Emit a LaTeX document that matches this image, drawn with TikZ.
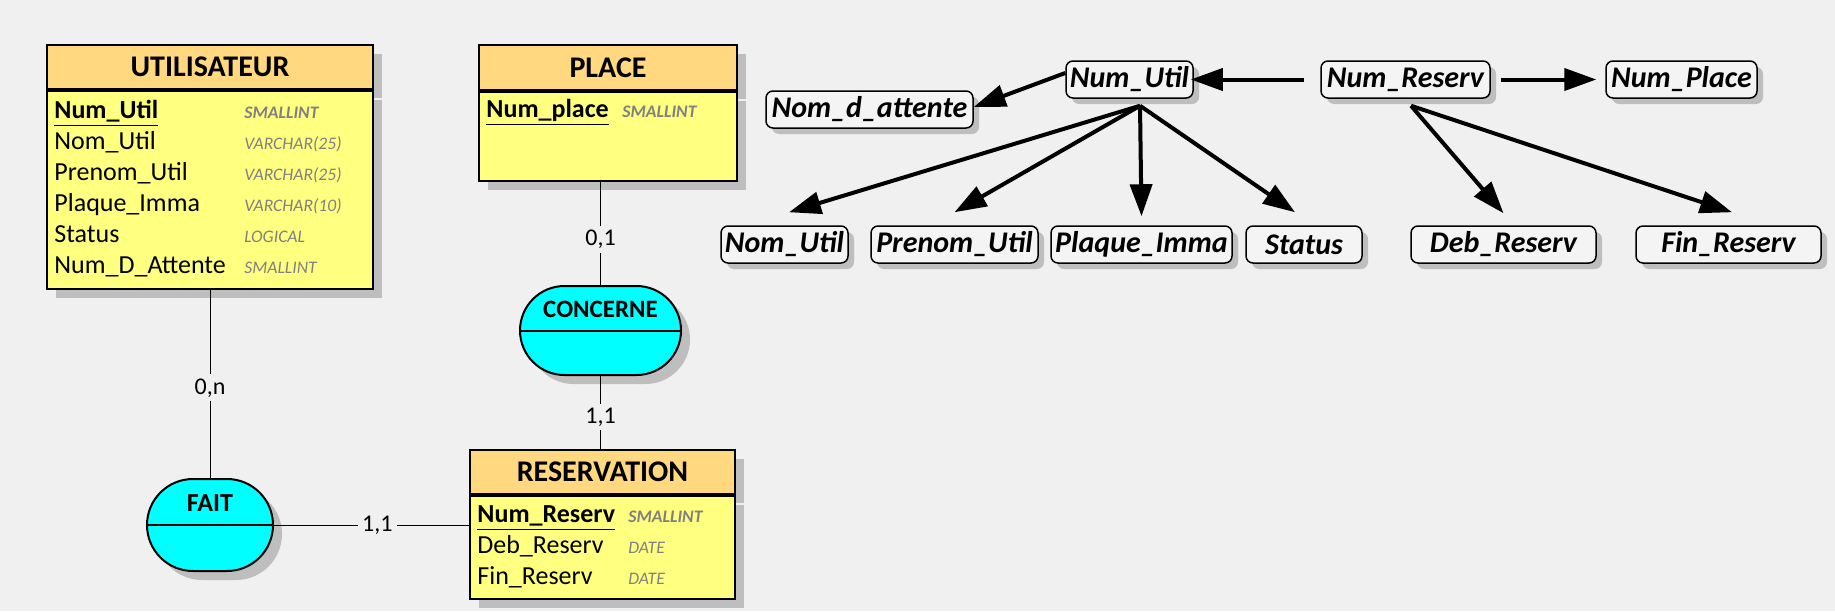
\documentclass[tikz,border=0pt]{standalone}
\usepackage{fontspec}
\setmainfont{Carlito}
\usetikzlibrary{arrows.meta,positioning,shapes.misc,shadows,calc}
\definecolor{canvas}{RGB}{240,240,240}
\definecolor{headfill}{RGB}{255,216,128}
\definecolor{bodyfill}{RGB}{255,255,128}
\definecolor{relfill}{RGB}{0,255,255}
\definecolor{shade}{RGB}{190,190,190}
\definecolor{typegray}{RGB}{128,128,128}
\definecolor{keyfill}{RGB}{244,244,244}
\newcommand{\dtype}[1]{{\fontsize{8.8}{9}\selectfont\itshape\color{typegray}#1}}
\newcommand{\dkeytype}[1]{{\fontsize{8.8}{9}\selectfont\bfseries\itshape\color{typegray}#1}}
\newcommand{\dkey}[1]{\underline{\textbf{#1}}}
\tikzset{
  >={Triangle[length=16pt,width=11pt]},
  ent head/.style={draw,line width=1pt,fill=headfill,inner sep=0pt,
    minimum height=22pt,font=\fontsize{15}{17}\selectfont\bfseries,
    drop shadow={shadow xshift=4.5pt,shadow yshift=-4.5pt,fill=shade,opacity=1}},
  ent body/.style={draw,line width=1pt,fill=bodyfill,inner sep=0pt,
    drop shadow={shadow xshift=4.5pt,shadow yshift=-4.5pt,fill=shade,opacity=1}},
  ent attr/.style={anchor=north west,inner sep=0pt,font=\fontsize{13}{15.5}\selectfont},
  rel/.style={rounded rectangle,draw,line width=1pt,fill=relfill,inner sep=0pt,
    drop shadow={shadow xshift=4.5pt,shadow yshift=-4.5pt,fill=shade,opacity=1}},
  rel name/.style={inner sep=0pt,font=\fontsize{13}{15}\selectfont\bfseries},
  card/.style={fill=canvas,inner sep=2pt,font=\fontsize{12}{14}\selectfont},
  link/.style={line width=0.5pt},
  dfbox/.style={draw,line width=0.75pt,rounded corners=3.5pt,fill=keyfill,
    minimum height=18.5pt,inner sep=1.5pt,font=\fontsize{15}{17}\selectfont\bfseries\itshape,
    drop shadow={shadow xshift=3pt,shadow yshift=-3pt,fill=shade,opacity=1}},
  dep/.style={->,line width=2pt},
}
\begin{document}
\begin{tikzpicture}[x=0.5pt,y=-0.5pt]
  \fill[canvas] (0,0) rectangle (1835,611);
  \useasboundingbox (0,0) rectangle (1835,611);

  % entities
  \node[ent head,minimum width=163pt] (utilh) at (210,67) {UTILISATEUR};
  \node[ent body,minimum width=163pt,minimum height=99pt,below=0pt of utilh] (util) {};
  \node[ent attr] (utilattr) at ([xshift=4pt,yshift=-3.3pt]util.north west) {%
    \begin{tabular}{@{}p{95pt}@{}l@{}}
      \dkey{Num\_Util} & \dkeytype{SMALLINT}\\
      Nom\_Util & \dtype{VARCHAR(25)}\\
      Prenom\_Util & \dtype{VARCHAR(25)}\\
      Plaque\_Imma & \dtype{VARCHAR(10)}\\
      Status & \dtype{LOGICAL}\\
      Num\_D\_Attente & \dtype{SMALLINT}
    \end{tabular}};

  \node[ent head,minimum width=129pt,minimum height=22.5pt] (placeh) at (608,67.5) {PLACE};
  \node[ent body,minimum width=129pt,minimum height=44.5pt,below=0pt of placeh] (place) {};
  \node[ent attr] (placeattr) at ([xshift=4pt,yshift=-2.2pt]place.north west) {%
    \begin{tabular}{@{}p{68pt}@{}l@{}}
      \dkey{Num\_place} & \dkeytype{SMALLINT}
    \end{tabular}};

  \node[ent head,minimum width=132.5pt] (resvh) at (602.5,472) {RESERVATION};
  \node[ent body,minimum width=132.5pt,minimum height=51.5pt,below=0pt of resvh] (resv) {};
  \node[ent attr] (resvattr) at ([xshift=4pt,yshift=-2.7pt]resv.north west) {%
    \begin{tabular}{@{}p{75.5pt}@{}l@{}}
      \dkey{Num\_Reserv} & \dkeytype{SMALLINT}\\
      Deb\_Reserv & \dtype{DATE}\\
      Fin\_Reserv & \dtype{DATE}
    \end{tabular}};

  % associations
  \node[rel,minimum width=63pt,minimum height=46pt] (fait) at (210,525) {};
  \draw[line width=1pt] (fait.west) -- (fait.east);
  \node[rel name] (faitname) at ([yshift=11pt]fait.center) {FAIT};

  \node[rel,minimum width=80.5pt,minimum height=44.5pt] (conc) at (600.5,330.5) {};
  \draw[line width=1pt] (conc.west) -- (conc.east);
  \node[rel name,font=\fontsize{12.5}{14}\selectfont\bfseries] (concname) at ([yshift=10.5pt]conc.center) {CONCERNE};

  \draw[link] (util.south) -- node[card,pos=0.52] {0,n} (fait.north);
  \draw[link] (fait.east) -- node[card,pos=0.53] {1,1} (fait.east -| resv.west);
  \draw[link] (conc.north |- place.south) -- node[card,pos=0.56] {0,1} (conc.north);
  \draw[link] (conc.south) -- node[card,pos=0.56] {1,1} (conc.south |- resvh.north);

  % functional dependencies
  \node[dfbox,minimum width=63.5pt] (nutil) at (1129.5,79.5) {Num\_Util};
  \node[dfbox,minimum width=103.5pt] (nattente) at (869.5,109.5) {Nom\_d\_attente};
  \node[dfbox,minimum width=84.5pt] (nresv) at (1405.5,79.5) {Num\_Reserv};
  \node[dfbox,minimum width=75.5pt] (nplace) at (1681.5,79.5) {Num\_Place};
  \node[dfbox,minimum width=63.5pt] (nomu) at (784.5,244.5) {Nom\_Util};
  \node[dfbox,minimum width=83.5pt] (prenu) at (954.5,244.5) {Prenom\_Util};
  \node[dfbox,minimum width=90.5pt] (plaq) at (1141.5,244.5) {Plaque\_Imma};
  \node[dfbox,minimum width=58pt] (stat) at (1304,244.5) {Status};
  \node[dfbox,minimum width=92.5pt] (debr) at (1503.5,244.5) {Deb\_Reserv};
  \node[dfbox,minimum width=92.5pt] (finr) at (1728.5,244.5) {Fin\_Reserv};

  \coordinate (utilfan) at ([xshift=5.25pt,yshift=-3.5pt]nutil.south);
  \coordinate (resvfan) at ([xshift=2.75pt,yshift=-3.5pt]nresv.south);

  \draw[dep,shorten <=8pt,shorten >=-1.5pt] (nresv) -- (nutil);
  \draw[dep,shorten <=5pt,shorten >=4.5pt] (nresv) -- (nplace);
  \draw[dep] ([yshift=3.25pt]nutil.west) -- ([yshift=1.25pt]nattente.east);
  \draw[dep] (utilfan) -- ([xshift=2.25pt,yshift=6.5pt]nomu.north);
  \draw[dep] (utilfan) -- ([yshift=6.5pt]prenu.north);
  \draw[dep] (utilfan) -- ([yshift=4.5pt]plaq.north);
  \draw[dep] (utilfan) -- ([xshift=-4.5pt,yshift=6.5pt]stat.north);
  \draw[dep] (resvfan) -- ([yshift=6pt]debr.north);
  \draw[dep] (resvfan) -- ([xshift=1.75pt,yshift=6.5pt]finr.north);
\end{tikzpicture}
\end{document}
